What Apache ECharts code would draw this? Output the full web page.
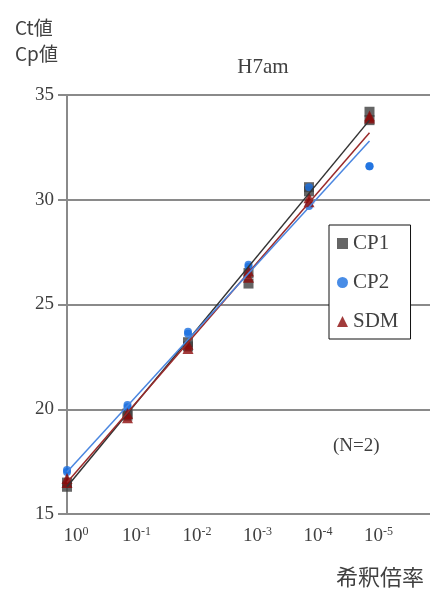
<!DOCTYPE html>
<html><head><meta charset="utf-8">
<script src="https://cdn.jsdelivr.net/npm/echarts@6/dist/echarts.min.js"></script>
<style>html,body{margin:0;padding:0;background:#fff}#c{width:437px;height:593px}</style>
</head><body><div id="c"></div>
<script>
// dilution steps (x positions 0..5) and exponent tick labels
const xPos = [0, 1, 2, 3, 4, 5];
const xExp = ['0', '-1', '-2', '-3', '-4', '-5'];
// two replicates per dilution (N=2)
const cp1Rep1 = [16.5, 19.8, 23.0, 26.0, 30.6, 34.2];
const cp1Rep2 = [16.3, 19.7, 23.2, 26.5, 30.4, 33.8];
const cp2Rep1 = [17.1, 20.2, 23.7, 26.9, 30.6, 31.6];
const cp2Rep2 = [17.0, 20.1, 23.6, 26.8, 29.7, 31.6];
const sdmRep1 = [16.7, 19.6, 23.1, 26.6, 30.1, 33.9];
const sdmRep2 = [16.5, 19.8, 22.9, 26.3, 29.9, 34.0];
// trendline end values at x = 0 and x = 5
const cp1Trend = [16.3, 33.8];
const cp2Trend = [17.0, 32.8];
const sdmTrend = [16.5, 33.2];
const yTicks = [15, 20, 25, 30, 35];

function pts(a, b) {
  const out = [];
  xPos.forEach((x, i) => { out.push([x, a[i]]); out.push([x, b[i]]); });
  return out;
}
function trend(t) { return [[xPos[0], t[0]], [xPos[xPos.length - 1], t[1]]]; }

const serif = "'Liberation Serif', 'DejaVu Serif', serif";
const sans = "'Noto Sans CJK JP', 'Noto Sans', sans-serif";
const cCP1 = '#3f3f3f', cCP2 = '#1a6fe0', cSDM = '#8b0a0a';

const chart = echarts.init(document.getElementById('c'));
chart.setOption({
  backgroundColor: '#fff',
  animation: false,
  title: { text: 'H7am', left: 258, textAlign: 'center', top: 52,
    textStyle: { fontFamily: serif, fontSize: 21, fontWeight: 'normal', color: '#404040' } },
  grid: { left: 67, right: 7, top: 95, bottom: 79 },
  legend: {
    orient: 'vertical', left: 329, top: 225, width: 88,
    padding: [8, 12, 7, 8], itemGap: 18,
    borderColor: '#111', borderWidth: 1, backgroundColor: '#fff',
    itemWidth: 11, itemHeight: 11,
    textStyle: { fontFamily: serif, fontSize: 21, color: '#404040' },
    data: [{ name: 'CP1', icon: 'rect' }, { name: 'CP2', icon: 'circle' }, { name: 'SDM', icon: 'triangle' }]
  },
  xAxis: {
    type: 'value', min: 0, max: 6, interval: 1,
    axisLine: { show: false }, axisTick: { show: false }, splitLine: { show: false },
    axisLabel: {
      margin: 12,
      formatter: v => (v < xExp.length ? '{b|10}{s|' + xExp[v] + '}' : ''),
      rich: {
        b: { fontFamily: serif, fontSize: 19, color: '#404040', padding: [0, 0, 0, 18] },
        s: { fontFamily: serif, fontSize: 12, color: '#404040', verticalAlign: 'top', padding: [0, 0, 8, 0] }
      }
    },
    name: '希釈倍率', nameLocation: 'end', nameGap: 0,
    nameTextStyle: { fontFamily: sans, fontSize: 22, color: '#404040', align: 'right', verticalAlign: 'top', padding: [52, 6, 0, 0] }
  },
  yAxis: {
    type: 'value', min: yTicks[0], max: yTicks[yTicks.length - 1], interval: 5,
    axisLine: { show: true, lineStyle: { color: '#8a8a8a', width: 2 } },
    axisTick: { show: true, length: 9, lineStyle: { color: '#8a8a8a', width: 2 } },
    splitLine: { show: true, lineStyle: { color: '#8a8a8a', width: 2 } },
    axisLabel: { margin: 13, fontFamily: serif, fontSize: 19, color: '#404040' },
    name: 'Ct値\nCp値', nameLocation: 'end', nameGap: 28,
    nameTextStyle: { fontFamily: sans, fontSize: 19, color: '#404040', align: 'left', lineHeight: 26, padding: [0, 0, 0, -52] }
  },
  graphic: [{ type: 'text', left: 333, top: 437,
    style: { text: '(N=2)', font: '19px ' + serif, fill: '#404040' } }],
  series: [
    { name: 'CP1 trend', type: 'line', data: trend(cp1Trend), symbol: 'none', lineStyle: { color: '#333', width: 1.5 }, z: 3 },
    { name: 'SDM trend', type: 'line', data: trend(sdmTrend), symbol: 'none', lineStyle: { color: '#9a2a2a', width: 1.5 }, z: 3 },
    { name: 'CP2 trend', type: 'line', data: trend(cp2Trend), symbol: 'none', lineStyle: { color: '#4a86e0', width: 1.5 }, z: 3 },
    { name: 'CP1', type: 'scatter', data: pts(cp1Rep1, cp1Rep2), symbol: 'rect', symbolSize: 10, itemStyle: { color: cCP1 }, z: 2 },
    { name: 'CP2', type: 'scatter', data: pts(cp2Rep1, cp2Rep2), symbol: 'circle', symbolSize: 8, itemStyle: { color: cCP2 }, z: 2 },
    { name: 'SDM', type: 'scatter', data: pts(sdmRep1, sdmRep2), symbol: 'triangle', symbolSize: 11, itemStyle: { color: cSDM }, z: 2 }
  ]
});
</script></body></html>
